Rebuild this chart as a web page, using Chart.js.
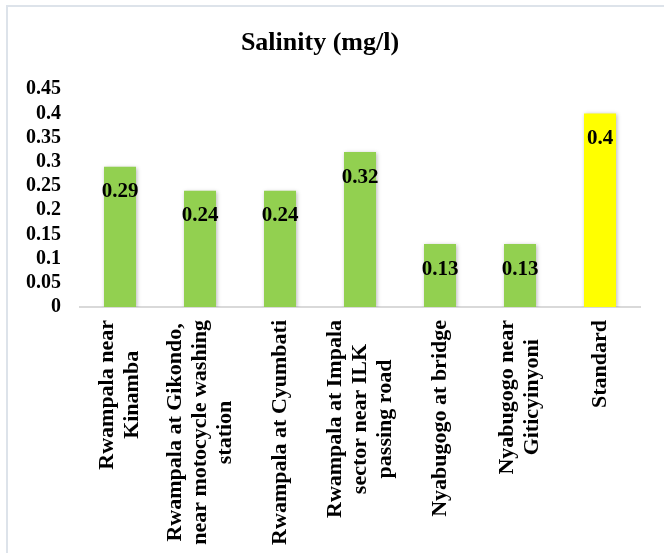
<!DOCTYPE html>
<html>
<head>
<meta charset="utf-8">
<title>Salinity</title>
<script src="https://cdn.jsdelivr.net/npm/chart.js@4"></script>
<style>
  html, body { margin: 0; padding: 0; background: #fff; }
  canvas { display: block; }
</style>
</head>
<body>
<canvas id="salinity-chart" width="664" height="553"></canvas>
<script>
// sampling sites, one label line per array entry
const sites = [
  ['Rwampala near', 'Kinamba'],
  ['Rwampala at Gikondo,', 'near motocycle washing', 'station'],
  ['Rwampala at Cyumbati'],
  ['Rwampala at Impala', 'sector near ILK', 'passing road'],
  ['Nyabugogo at bridge'],
  ['Nyabugogo near', 'Giticyinyoni'],
  ['Standard']
];
const salinity = [0.29, 0.24, 0.24, 0.32, 0.13, 0.13, 0.4];
const yTickLabels = ['0', '0.05', '0.1', '0.15', '0.2', '0.25', '0.3', '0.35', '0.4', '0.45'];

const serif = "'Liberation Serif', 'Times New Roman', serif";
const barColors = salinity.map((v, i) => i === salinity.length - 1 ? '#ffff00' : '#92d050');

// light frame round the chart
const framePlugin = {
  id: 'frame',
  beforeDraw(chart) {
    const ctx = chart.ctx;
    ctx.save();
    ctx.fillStyle = '#fff';
    ctx.fillRect(0, 0, chart.width, chart.height);
    ctx.strokeStyle = '#dde3ea';
    ctx.lineWidth = 2;
    ctx.strokeRect(7, 6, chart.width + 20, chart.height + 20);
    ctx.restore();
  }
};

// soft shadow under the bars
const shadowPlugin = {
  id: 'barShadow',
  beforeDatasetsDraw(chart) {
    const ctx = chart.ctx;
    ctx.save();
    ctx.shadowColor = 'rgba(0, 0, 0, 0.28)';
    ctx.shadowBlur = 4;
    ctx.shadowOffsetX = 1;
    ctx.shadowOffsetY = 1;
  },
  afterDatasetsDraw(chart) {
    chart.ctx.restore();
  }
};

// value labels just inside the top of each bar
const valueLabels = {
  id: 'valueLabels',
  afterDatasetsDraw(chart) {
    const ctx = chart.ctx;
    const meta = chart.getDatasetMeta(0);
    ctx.save();
    ctx.font = 'bold 21px ' + serif;
    ctx.fillStyle = '#000';
    ctx.textAlign = 'center';
    ctx.textBaseline = 'middle';
    meta.data.forEach((bar, i) => {
      ctx.fillText(String(salinity[i]), bar.x, bar.y + 25);
    });
    ctx.restore();
  }
};

// vertical category labels, lines centred on each other
const siteLabels = {
  id: 'siteLabels',
  afterDraw(chart) {
    const ctx = chart.ctx;
    const xs = chart.scales.x;
    const lineH = 25;
    ctx.save();
    ctx.font = 'bold 22px ' + serif;
    ctx.fillStyle = '#000';
    ctx.textAlign = 'center';
    ctx.textBaseline = 'middle';
    sites.forEach((lines, i) => {
      const x = xs.getPixelForValue(i);
      const longest = Math.max(...lines.map(l => ctx.measureText(l).width));
      const yMid = xs.top + 13 + longest / 2;
      lines.forEach((line, j) => {
        const lx = x + (j - (lines.length - 1) / 2) * lineH;
        ctx.save();
        ctx.translate(lx, yMid);
        ctx.rotate(-Math.PI / 2);
        ctx.fillText(line, 0, 0);
        ctx.restore();
      });
    });
    ctx.restore();
  }
};

const data = {
  labels: sites,
  datasets: [{
    label: 'Salinity (mg/l)',
    data: salinity,
    backgroundColor: barColors,
    borderWidth: 0,
    categoryPercentage: 0.8,
    barPercentage: 0.5
  }]
};

const config = {
  type: 'bar',
  data: data,
  options: {
    responsive: false,
    animation: false,
    layout: { padding: { left: 0, right: 24, top: 0, bottom: 0 } },
    plugins: {
      legend: { display: false },
      tooltip: { enabled: false },
      title: {
        display: true,
        text: 'Salinity (mg/l)',
        color: '#000',
        font: { family: serif, size: 26, weight: 'bold', lineHeight: 1.2 },
        padding: { top: 28, bottom: 30 }
      }
    },
    scales: {
      x: {
        grid: { display: false, drawTicks: false },
        border: { display: true, color: '#d9d9d9', width: 2 },
        ticks: { display: false },
        afterFit(scale) { scale.height = 246; }
      },
      y: {
        min: 0,
        max: 0.45,
        grid: { display: false, drawTicks: false },
        border: { display: false },
        ticks: {
          stepSize: 0.05,
          autoSkip: false,
          padding: 19,
          color: '#000',
          font: { family: serif, size: 20, weight: 'bold' },
          callback: (value, index) => yTickLabels[index]
        },
        afterFit(scale) { scale.width = 80; }
      }
    }
  },
  plugins: [framePlugin, shadowPlugin, valueLabels, siteLabels]
};

const ctx = document.getElementById('salinity-chart').getContext('2d');
const chart = new Chart(ctx, config);
</script>
</body>
</html>
